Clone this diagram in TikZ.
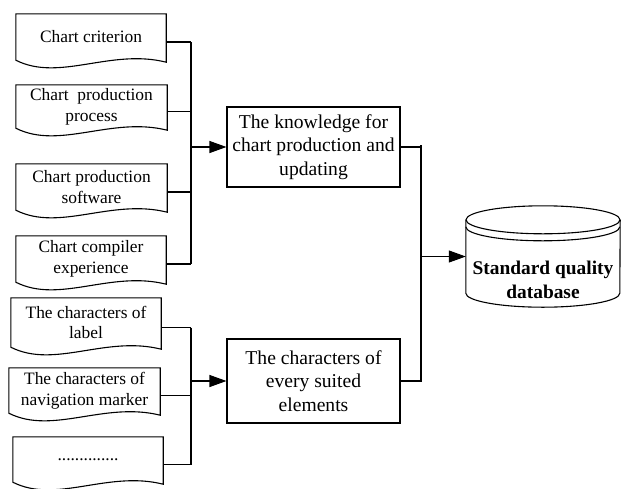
\documentclass[tikz,border=0pt]{standalone}
\usepackage{fontspec}
\setmainfont{Liberation Serif}
\usetikzlibrary{calc,arrows.meta}

\tikzset{
  line/.style={line width=1.1pt, draw=black},
  docnode/.style={inner sep=0pt, align=center, minimum width=150pt,
    font=\fontsize{17.4}{20.9}\selectfont},
  procbox/.style={draw, line width=1.1pt, inner sep=0pt, align=center,
    minimum width=173pt, font=\fontsize{19.6}{23.5}\selectfont},
  arr/.style={line, -{Triangle[length=17pt,width=12pt]}},
}

% outline of a "document" shape around a named node: straight top and sides,
% wavy bottom edge running from the lower right corner back to the lower left one
\newcommand\docoutline[1]{%
  \draw[line] (#1.south west) -- (#1.north west) -- (#1.north east)
    -- ([yshift=-2pt]#1.south east)
    .. controls ($(#1.south west)!0.63!(#1.south east)+(0,12pt)$)
       and ($(#1.south west)!0.29!(#1.south east)+(0,-22pt)$) .. (#1.south west)
    -- cycle;}

\begin{document}
\begin{tikzpicture}[x=1pt, y=-1pt]
  \useasboundingbox (0,0) rectangle (621,488);

  % source documents, upper group
  \node[docnode, minimum height=46pt] (d1) at (91,37) {Chart criterion};
  \node[docnode, minimum height=43pt, minimum width=151pt] (d2) at (91.5,106.5) {Chart\hspace{0.5em}production\\process};
  \node[docnode, minimum height=46pt, minimum width=151pt] (d3) at (91.5,187) {Chart production\\software};
  \node[docnode, minimum height=46pt] (d4) at (91,259) {Chart compiler\\experience};

  % source documents, lower group
  \node[docnode, minimum height=49pt] (d5) at (86,322.5) {The characters of\\label};
  \node[docnode, minimum height=45pt, minimum width=151pt] (d6) at (84.5,390.5) {The characters of\\navigation marker};
  \node[docnode, minimum height=45pt] (d7) at (88,459.5) {..............};

  \foreach \d in {d1,d2,d3,d4,d5,d6,d7} {\docoutline{\d}}

  % intermediate boxes
  \node[procbox, minimum height=80pt] (know) at (313.5,147)
    {The knowledge for\\chart production and\\updating};
  \node[procbox, minimum height=84pt] (elem) at (313.5,381)
    {The characters of\\every suited\\elements};

  % database cylinder
  \node[inner sep=0pt, minimum width=154pt, minimum height=101pt] (db) at (543,256.5) {};
  \draw[line] ([yshift=-14pt]db.north) ellipse [x radius=77pt, y radius=14pt];
  \draw[line] ([yshift=-21pt]db.north west) arc[start angle=180, end angle=360, x radius=77pt, y radius=14pt];
  \draw[line] ([yshift=-14pt]db.north west) -- ([yshift=14pt]db.south west)
    arc[start angle=180, end angle=360, x radius=77pt, y radius=14pt]
    -- ([yshift=-14pt]db.north east);
  \node[font=\bfseries\fontsize{19.4}{23.5}\selectfont, align=center, inner sep=0pt]
    (dblabel) at ([yshift=-23.5pt]db.center) {Standard quality\\database};

  % bus lines
  \coordinate (busA) at (191,0);
  \coordinate (busB) at (421,0);

  \foreach \d in {d1,d2,d3,d4,d5,d6,d7}
    \draw[line] ([yshift=-5pt]\d.east) -- ([yshift=-5pt]\d.east -| busA);
  \draw[line] ([yshift=-5pt]d1.east -| busA) -- ([yshift=-5pt]d4.east -| busA);
  \draw[line] ([yshift=-5pt]d5.east -| busA) -- ([yshift=-5pt]d7.east -| busA);
  \draw[arr] (know.west -| busA) -- (know.west);
  \draw[arr] (elem.west -| busA) -- (elem.west);

  \draw[line] (know.east) -- (know.east -| busB);
  \draw[line] ([yshift=2pt]know.east -| busB) -- (elem.east -| busB) -- (elem.east);
  \draw[arr] (db.west -| busB) -- (db.west);
\end{tikzpicture}
\end{document}
